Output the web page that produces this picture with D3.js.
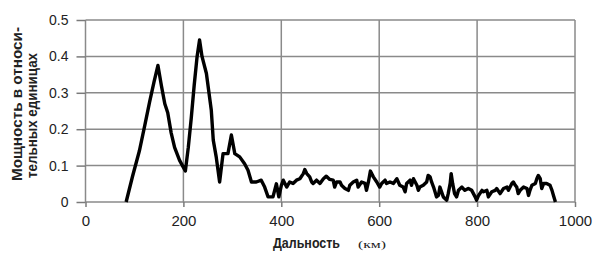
<!DOCTYPE html>
<meta charset="utf-8">
<style>
body { margin: 0; background: #fff; overflow: hidden; }
.grid line { stroke: #8a8a8a; stroke-width: 1.5px; }
.axis path { display: none; }
.axis line { stroke: #7a7a7a; stroke-width: 1.5px; }
.axis text { font-family: "Liberation Sans", Arial, sans-serif; fill: #222; }
.trace { fill: none; stroke: #000; stroke-width: 3.4px; stroke-linejoin: round; }
</style>
<div id="chart"></div>
<script src="https://cdn.jsdelivr.net/npm/d3@7"></script>
<script>

// distance (km) and relative power
var distKm = [83, 96, 110, 121, 131, 140, 148, 155, 162, 168, 175, 182, 192, 198, 204,
  210, 216, 222, 228, 233, 238, 247, 257, 261, 267, 274, 281, 291, 298, 305, 315, 325,
  332, 339, 349, 359, 366, 373, 383, 390, 395, 400, 404, 411, 417, 424, 431, 438, 445,
  448, 452, 458, 462, 465, 472, 479, 486, 492, 499, 506, 509, 513, 520, 523, 530, 537,
  540, 547, 554, 557, 564, 571, 574, 578, 582, 588, 595, 601, 605, 612, 615, 622, 629,
  636, 642, 649, 653, 656, 663, 666, 670, 677, 680, 683, 690, 697, 700, 704, 707, 711,
  714, 717, 721, 724, 731, 738, 741, 745, 747, 750, 754, 758, 762, 769, 775, 782, 789,
  796, 799, 803, 810, 813, 820, 823, 830, 837, 840, 847, 854, 861, 864, 871, 874, 878,
  881, 884, 888, 895, 902, 905, 908, 912, 919, 922, 925, 929, 932, 936, 942, 949, 953,
  956, 960];
var power = [0, 0.07, 0.14, 0.21, 0.275, 0.33, 0.375, 0.32, 0.27, 0.245, 0.19, 0.15,
  0.115, 0.10, 0.085, 0.15, 0.23, 0.32, 0.40, 0.445, 0.40, 0.353, 0.252, 0.17, 0.124,
  0.055, 0.133, 0.133, 0.184, 0.133, 0.124, 0.105, 0.087, 0.055, 0.055, 0.06, 0.041,
  0.014, 0.014, 0.05, 0.014, 0.045, 0.06, 0.041, 0.055, 0.051, 0.06, 0.064, 0.078,
  0.089, 0.078, 0.069, 0.055, 0.051, 0.06, 0.051, 0.064, 0.071, 0.062, 0.06, 0.041,
  0.055, 0.055, 0.046, 0.037, 0.032, 0.046, 0.055, 0.06, 0.041, 0.055, 0.051, 0.032,
  0.055, 0.085, 0.069, 0.055, 0.041, 0.051, 0.06, 0.051, 0.055, 0.051, 0.064, 0.046,
  0.041, 0.028, 0.051, 0.06, 0.046, 0.064, 0.046, 0.032, 0.041, 0.046, 0.055, 0.073,
  0.069, 0.055, 0.041, 0.028, 0.014, 0.018, 0.041, 0.014, 0.005, 0.023, 0.051, 0.078,
  0.051, 0.023, 0.014, 0.032, 0.041, 0.032, 0.037, 0.032, 0.014, 0.005, 0.018, 0.032,
  0.028, 0.032, 0.014, 0.028, 0.032, 0.037, 0.023, 0.037, 0.041, 0.032, 0.051, 0.055,
  0.046, 0.041, 0.023, 0.032, 0.041, 0.037, 0.018, 0.032, 0.046, 0.051, 0.064, 0.073,
  0.064, 0.037, 0.051, 0.051, 0.046, 0.032, 0.018, 0];

var xTicks = [0, 200, 400, 600, 800, 1000];
var yTicks = [0, 0.1, 0.2, 0.3, 0.4, 0.5];
var xTitle = "Дальность";
var xUnit = "(км)";
var yTitle = ["Мощность в относи-", "тельных единицах"];

var W = 594, H = 253;
var margin = {top: 20, right: 19, bottom: 51, left: 85.5};
var w = W - margin.left - margin.right,
    h = H - margin.top - margin.bottom;

var svg = d3.select("#chart").append("svg")
    .attr("width", W)
    .attr("height", H);

var g = svg.append("g")
    .attr("transform", `translate(${margin.left},${margin.top})`);

var x = d3.scaleLinear().domain([0, 1000]).range([0, w]);
var y = d3.scaleLinear().domain([0, 0.5]).range([h, 0]);

// grid
var grid = g.append("g").attr("class", "grid");
grid.selectAll("line.h").data(yTicks).enter().append("line")
    .attr("x1", 0).attr("x2", w)
    .attr("y1", d => y(d)).attr("y2", d => y(d));
grid.selectAll("line.v").data(xTicks).enter().append("line")
    .attr("x1", d => x(d)).attr("x2", d => x(d))
    .attr("y1", 0).attr("y2", h);

// axes (outer ticks + labels)
g.append("g").attr("class", "axis")
    .call(d3.axisLeft(y).tickValues(yTicks).tickSize(9).tickPadding(8)
        .tickFormat(d => d === 0 ? "0" : d.toFixed(1)))
    .selectAll("text").style("font-size", "14px");

g.append("g").attr("class", "axis")
    .attr("transform", `translate(0,${h})`)
    .call(d3.axisBottom(x).tickValues(xTicks).tickSize(5).tickPadding(8)
        .tickFormat(d3.format("d")))
    .selectAll("text").style("font-size", "15px");

// curve
var line = d3.line()
    .x((d, i) => x(distKm[i]))
    .y(d => y(d));

g.append("path")
    .datum(power)
    .attr("class", "trace")
    .attr("d", line);

// x title
svg.append("text")
    .attr("x", 273).attr("y", 248)
    .attr("textLength", 67).attr("lengthAdjust", "spacingAndGlyphs")
    .style("font-family", "'Liberation Sans', Arial, sans-serif")
    .style("font-weight", "bold").style("font-size", "15px")
    .style("fill", "#222")
    .text(xTitle);

svg.append("text")
    .attr("x", 358).attr("y", 248)
    .attr("textLength", 28).attr("lengthAdjust", "spacingAndGlyphs")
    .style("font-family", "'Liberation Serif', 'Times New Roman', serif")
    .style("font-size", "11px")
    .style("fill", "#222")
    .text(xUnit);

// y title, two rotated lines
var yt = svg.append("text")
    .attr("transform", "translate(0,181) rotate(-90)")
    .style("font-family", "'Liberation Sans', Arial, sans-serif")
    .style("font-weight", "bold").style("font-size", "14px")
    .style("fill", "#222");
yt.append("tspan").attr("x", 0).attr("y", 22)
    .attr("textLength", 154).attr("lengthAdjust", "spacingAndGlyphs")
    .text(yTitle[0]);
yt.append("tspan").attr("x", 3).attr("y", 37)
    .attr("textLength", 125).attr("lengthAdjust", "spacingAndGlyphs")
    .text(yTitle[1]);

</script>
